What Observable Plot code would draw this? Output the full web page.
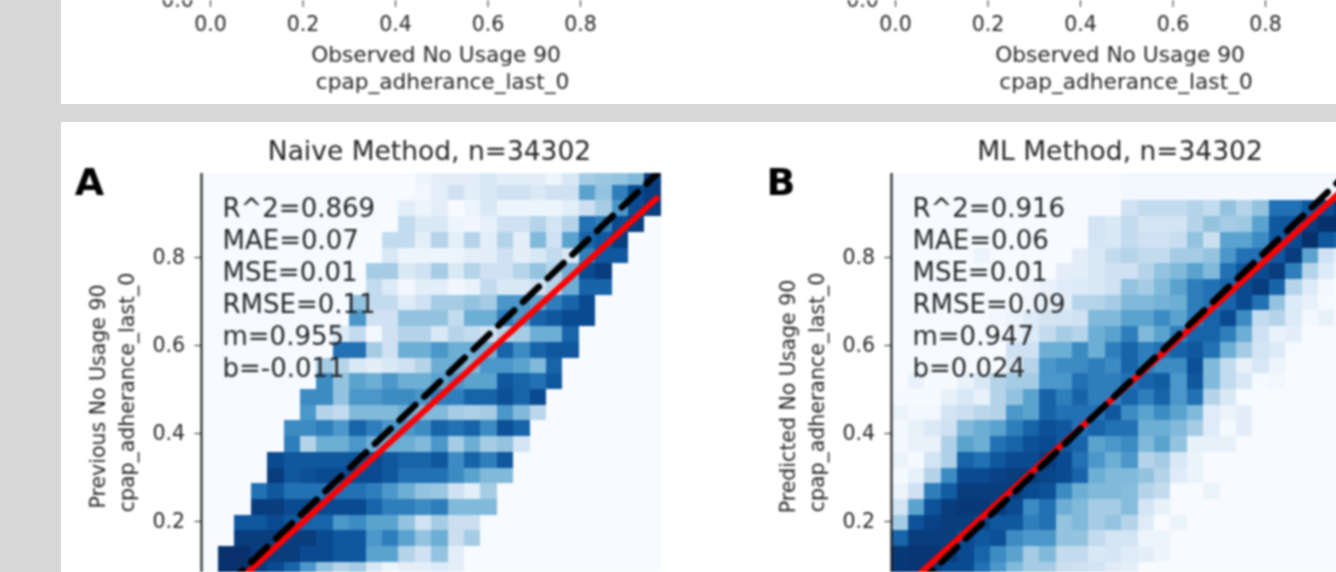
<!DOCTYPE html>
<html><head><meta charset="utf-8">
<script src="https://cdn.jsdelivr.net/npm/d3@7"></script>
<script src="https://cdn.jsdelivr.net/npm/@observablehq/plot@0.6"></script>
<style>
html,body{margin:0;padding:0;width:1336px;height:572px;overflow:hidden;background:#d8d8d8}
.panel{position:absolute;background:#fff;overflow:hidden}
.panel svg{position:absolute;top:0;background:transparent;filter:blur(.8px);max-width:none}
</style></head><body>
<div class="panel" id="top" style="left:61px;top:0;width:1275px;height:104px"></div>
<div class="panel" id="bottom" style="left:61px;top:122px;width:1275px;height:450px"></div>
<script>
// Heat-map intensity (0-10), rows from the top of the image down, 28 columns; missing trailing cells are empty.
const naiveRows = [
[0,0,0,0,0,0,0,0,0,0,0,0,0,.5,1,1,1,1.5,1,1,1,.5,1.5,3.5,3.8,4,4.5,9.5],
[0,0,0,0,0,0,0,0,0,0,0,0,0,.3,1,2,1,1.5,2,2,1.5,2,2,5.5,4,7,9,9.5],
[0,0,0,0,0,0,0,0,0,0,0,0,1,.5,1,0,.5,1.5,.5,.5,.5,.5,1,2.2,3.5,6,9,9.5],
[0,0,0,0,0,0,0,0,0,0,0,0,2.5,1.5,1.5,.5,.3,.8,2,2,3,1.8,3,7.5,7,9,9.5],
[0,0,0,0,0,0,0,0,0,0,0,2.5,2.5,1,3,1,3,1,3,1,4.5,2,5.5,8,8.5,9.5],
[0,0,0,0,0,0,0,0,0,0,0,1.5,.5,.5,.5,.5,1,1,2,1,1.5,2.5,1.5,7,8.5,8.5],
[0,0,0,0,0,0,0,0,0,0,3.5,3.5,1.5,2,3.5,1.5,3,2,2,3,4,3,5,9,9.5],
[0,0,0,0,0,0,0,0,0,0,2.5,1.3,.3,1,1,.3,.7,2.5,1.5,1.5,2,3,5,8,8],
[0,0,0,0,0,0,0,0,0,4,2.5,2.5,1.2,2,3.5,3.5,4,3.5,6,6,5.5,7,8,9],
[0,0,0,0,0,0,0,0,0,6,2,2,4,4,4,2.5,5,5,7,6,8,8.5,9,9],
[0,0,0,0,0,0,0,0,1.3,2.5,.2,2,3,3,1.5,3,2.5,2,3,3.5,5,5,8],
[0,0,0,0,0,0,0,0,7.5,7.5,3.5,2,5,5,6,5,5,5,8,6.5,8,8.5,8.5],
[0,0,0,0,0,0,0,3.5,3,1.5,1,1.5,2,3,5,5,4.5,6,6,5.5,4.5,8],
[0,0,0,0,0,0,0,6.5,4,5.5,5,6,5,5,5.5,6,5.5,5.5,8.5,8,7.5,8.5],
[0,0,0,0,0,0,6.5,6.5,4,6,6,6.5,6.5,6,7,7,8,8,8.8,8,9],
[0,0,0,0,0,0,6,3,2.5,4.5,4.5,4.5,5,4.5,4.5,3.5,3.3,3.5,6,4.5,2.8],
[0,0,0,0,0,6.5,6.5,7,6,8,7,6,6,6.5,8,7.5,8,6.5,8.8,8],
[0,0,0,0,0,7,3,5,5,6,5,5,5,4.5,6,3.5,5,3.5,4,1.8],
[0,0,0,0,9,8.5,8.5,8.5,8.5,8.5,9,8.5,8,8,8.5,6.5,8,7,8.5],
[0,0,0,0,9.5,8.5,8.8,9,9,9,9,8.5,7.5,7.5,7.5,6.5,5.5,4.5,4.5],
[0,0,0,7.5,8.5,7.5,7.5,7.5,7.5,7.5,7,6,5,4,3.8,2,1,3.5],
[0,0,0,9.5,9.5,9,9,9,9,9,8,7,7,6.5,7,4.5,4.5,4.5],
[0,0,8.5,8.5,9,8.5,8,8,6,6.5,5.5,5.5,4,2,3.5,2.2,2.2],
[0,0,9.5,9.5,9.5,9.5,9.5,9,8.5,8.5,6,7,5.5,4,5,2.2,3.5],
[0,10,10,9.5,9.5,9.5,9,9,8.5,8.5,5.5,5.5,3,2,4,1],
[0,10,10,9.5,9,8,6,4,3,3.5,1.5,.5,1,1,1.3,1]
];
const mlRows = [
[0,0,0,0,0,0,0,0,0,0,0,0,0,0,.2,.2,.2,.2,.2,.2,.2,.2,.2,.2,.2,.2,.2,.2],
[0,0,0,0,0,0,0,0,0,0,0,0,0,0,.2,.2,.2,.2,.2,.2,.2,.2,.2,.2,.2,.2,.2,.2],
[0,0,0,0,0,0,0,0,0,0,0,0,0,0,2,2.5,2.5,2.5,3,2.5,4,3,4,7.5,7.5,8.5,9,9.5],
[0,0,0,0,0,0,0,0,0,0,0,0,1.8,1.5,2.5,1.8,1.8,1.8,3,4,3.5,3.7,5.5,8.5,8.5,9.5,10,10],
[0,0,0,0,0,0,0,0,0,0,0,0,1.8,1.5,2.5,2,2,2.3,4,2.2,5.5,5.5,6.5,8.5,9,10,8.5,8],
[0,0,0,0,0,.6,0,0,0,0,0,1,1.5,2.5,3,2.5,2.5,3.5,3.5,4,6,7.5,7.5,8.5,9.5,5.5,2,1],
[0,0,0,0,0,0,0,0,0,0,1,1,1.5,2,2,3,4,4.5,5.5,4.5,7.5,8.5,9,9.5,7,3,1.3,.5],
[0,0,0,0,0,0,0,0,.3,.7,1.2,1.3,1.5,2,4,3.5,4.5,5.5,7,7.5,8,9,9.5,8,3,1.3,.2,0],
[0,0,0,0,0,0,0,0,.3,.8,1,3,3,3.5,4.5,4.5,4.8,5,7,7.5,8,9,7.5,4,1.3,.8,.1,0],
[0,0,0,0,0,0,.3,.5,1.2,1.8,1.8,2,4.5,4.5,5.5,5.5,6.5,5.5,7,8,9,6.5,2.5,3,1.3,.2,.8,0],
[0,0,0,0,0,0,0,.5,1.3,2.5,3.5,3,5,5.5,7,4.5,5.5,7,8,8,7,5,2,.7,1,0,0,0],
[0,0,0,0,0,0,0,2,2,5,5,6.5,5,7,8,7,7.5,8,8.5,7.5,5,3.5,1.8,1.3,.1],
[0,0,0,0,0,0,0,1.5,3,6,6.5,6.5,7,6.5,8,7,6.5,6.5,8.8,4.5,2.5,.8,1.6,.5],
[0,.7,.1,.1,.7,1.5,3,3.5,3.5,6,6,7.5,7,7,7.5,8,8.3,6,8.5,4.5,2.5,1.5,.1,.3],
[.1,.1,.1,.8,1.5,.8,3,4,5.5,8,7,8,7,7,8,7,8,6,7.5,3,1.5],
[.6,.2,.3,1.8,2.2,2.8,3,6,5.5,8,7.5,7.5,7.5,8.5,6.5,5.5,6.5,5.5,4.5,1.2,.6,1],
[.2,.8,1.4,2,4.5,5,5.5,7,8,8.8,8.5,7.5,8,7.5,7.5,5,5,4.5,3.5,1.2,.1,1],
[.2,.7,.7,3.2,5.5,5,7.5,8,8.8,9,8.5,8,5.5,6,6.5,4.5,5.5,4,.8,.8,.8],
[.6,.1,1.8,3.2,8,7.5,8.5,9,9,9.5,9,7.5,6,5,6,3,3.5,1.5,.6],
[.1,.8,3,6.5,9,9,9.3,9.5,9.5,9.2,9,8,5,4.5,4.5,4,3,1.2,.6],
[.5,2,7,8.3,9.5,9.5,9.5,9.5,9,8.8,6.5,5,4.5,4.5,4.3,3,2.5,0,0,.6],
[1.8,5.5,8.7,9.5,9.7,9.7,9.5,9,6.5,7.5,5,4.5,3.5,3.5,4.3,1.7,.8],
[3.5,8.7,9.3,9.5,9.5,9.2,8.5,8.5,7,7.5,4,4.5,3.5,4,3,1.2,0,.6],
[8,9.5,9.5,9.5,9,8.5,8.8,6.5,6,6,4,4,2.5,1.8,1.8,.5,.5],
[9.7,9.8,9.8,9.5,9,8,6.5,5.5,3.5,4.5,2.5,2.5,1.5,1.7,1.2,1,.5],
[9.7,9.8,9.7,9,9,7.5,6,4.5,3.5,3.5,2.2,2,1.8,1.2,1]
];
const statsA = ["R^2=0.869","MAE=0.07","MSE=0.01","RMSE=0.11","m=0.955","b=-0.011"];
const statsB = ["R^2=0.916","MAE=0.06","MSE=0.01","RMSE=0.09","m=0.947","b=0.024"];
const fitA = {m:0.955,b:-0.011};
const fitB = {m:0.947,b:0.024};
const xTicks = [0,0.2,0.4,0.6,0.8];
const yTicks = [0.2,0.4,0.6,0.8];
const bins = 28, yMax = 0.991, yMin = 0.0841, xMax = 0.99;
const ink = "#262626", font = "DejaVu Sans";

function cells(rows){
  const out=[];
  rows.forEach((r,j)=>r.forEach((v,i)=>out.push({x1:i/bins,x2:(i+1)/bins,y1:(27-j)/bins,y2:Math.min(yMax,(28-j)/bins),v})));
  return out;
}
function label(text,x,y,o={}){
  return Plot.text([text],{text:d=>d,frameAnchor:"top-left",dx:x,dy:y,fill:ink,fontSize:20.5,lineAnchor:"middle",textAnchor:"middle",...o});
}
function mount(host,left,node){node.style.left=left+"px";host.appendChild(node);}

function heat({rows,stats,fit,title,letter,yl1,yl2,width,frameLeft,ft,lx}){
  const line=[{x:0,y:0},{x:xMax,y:xMax}];
  const reg=[{x:0,y:fit.b},{x:xMax,y:fit.m*xMax+fit.b}];
  return Plot.plot({
    width,height:450,marginTop:51,marginBottom:0,marginLeft:frameLeft,marginRight:width-frameLeft-459.2,
    style:{fontFamily:font,background:"transparent"},
    x:{domain:[0,1],axis:null},
    y:{domain:[yMin,yMax],axis:null},
    color:{type:"linear",scheme:"blues",domain:[0,10]},
    marks:[
      Plot.frame({fill:d3.interpolateBlues(0),stroke:"none"}),
      Plot.rect(cells(rows),{x1:"x1",x2:"x2",y1:"y1",y2:"y2",fill:"v",inset:0,shapeRendering:"crispEdges"}),
      Plot.line(reg,{x:"x",y:"y",stroke:"#ff0000",strokeWidth:6,clip:true}),
      Plot.line(line,{x:"x",y:"y",stroke:"#000",strokeWidth:6.5,strokeDasharray:"22,12.2",clip:true}),
      Plot.axisY({ticks:yTicks,tickFormat:".1f",tickSize:7,tickPadding:10,fontSize:20.5,color:ink,label:null,stroke:ink,fontFamily:font}),
      Plot.ruleX([0],{stroke:"#111",strokeWidth:2,dx:-.5}),
      Plot.text([stats.join("\n")],{x:0.0446,y:0.9136,text:d=>d,textAnchor:"start",lineAnchor:"middle",lineHeight:1.23,fontSize:26,fill:ink,dy:79}),
      label(title,ft,-22,{fontSize:26.5}),
      label(letter,lx,9,{fontSize:38,fontWeight:"bold",fill:"#000"}),
      label(yl1,-104,223,{rotate:-90}),
      label(yl2,-75,219,{rotate:-90})
    ]
  });
}

function axisTop({width,frameLeft,l1,l2,cx1,cx2}){
  return Plot.plot({
    width,height:104,marginTop:0,marginBottom:104,marginLeft:frameLeft,marginRight:width-frameLeft-462.5,
    style:{fontFamily:font,background:"transparent"},
    x:{domain:[0,1]},
    marks:[
      Plot.axisX({ticks:xTicks,tickFormat:".1f",tickSize:7,tickPadding:9,fontSize:20.5,color:ink,label:null,stroke:ink,fontFamily:font}),
      label("0.0",-33,0,{fontSize:20.5}),
      label(l1,cx1,55,{fontSize:21.7}),
      label(l2,cx2,82,{fontSize:21.7})
    ]
  });
}

const t=document.getElementById("top"), b=document.getElementById("bottom");
mount(t,0,axisTop({width:639,frameLeft:149,l1:"Observed No Usage 90",l2:"cpap_adherance_last_0",cx1:225.5,cx2:232}));
mount(t,639,axisTop({width:650,frameLeft:195,l1:"Observed No Usage 90",l2:"cpap_adherance_last_0",cx1:224.5,cx2:230.5}));
mount(b,0,heat({rows:naiveRows,stats:statsA,fit:fitA,title:"Naive Method, n=34302",letter:"A",yl1:"Previous No Usage 90",yl2:"cpap_adherance_last_0",width:639,frameLeft:140.5,ft:227.5,lx:-112.5}));
mount(b,639,heat({rows:mlRows,stats:statsB,fit:fitB,title:"ML Method, n=34302",letter:"B",yl1:"Predicted No Usage 90",yl2:"cpap_adherance_last_0",width:650,frameLeft:191.5,ft:228,lx:-111}));
</script>
</body></html>
